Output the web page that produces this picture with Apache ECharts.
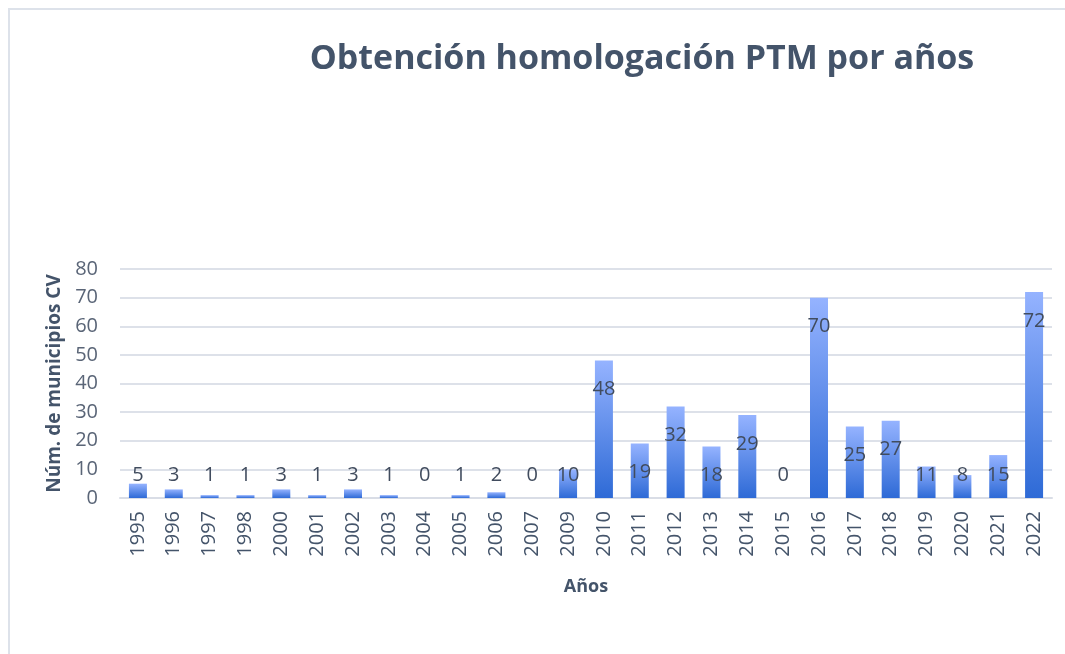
<!DOCTYPE html>
<html>
<head>
<meta charset="utf-8">
<script src="https://cdn.jsdelivr.net/npm/echarts@6/dist/echarts.min.js"></script>
<style>
  html, body { margin: 0; padding: 0; background: #fff; }
  #chart { width: 1065px; height: 654px; }
</style>
</head>
<body>
<div id="chart"></div>
<script>
const years = ['1995', '1996', '1997', '1998', '2000', '2001', '2002', '2003', '2004', '2005', '2006', '2007', '2009',
  '2010', '2011', '2012', '2013', '2014', '2015', '2016', '2017', '2018', '2019', '2020', '2021', '2022']
const counts = [5, 3, 1, 1, 3, 1, 3, 1, 0, 1, 2, 0, 10, 48, 19, 32, 18, 29, 0, 70, 25, 27, 11, 8, 15, 72]
const yTicks = [0, 10, 20, 30, 40, 50, 60, 70, 80]

const textColor = '#44546a'

const chart = echarts.init(document.getElementById('chart'))

// etiquetas: dentro del extremo en barras altas, a ras de suelo en las bajas
const barData = counts.map(v => ({
  value: v,
  label: v >= 19
    ? { position: 'insideTop', distance: 19 }
    : { position: 'insideBottom', distance: 13 }
}))

const option = {
  backgroundColor: '#fff',
  animation: false,
  title: {
    text: 'Obtención homologación PTM por años',
    left: 637,
    top: 37,
    textAlign: 'center',
    textStyle: {
      fontFamily: 'Open Sans',
      fontWeight: 'bold',
      fontSize: 34,
      color: textColor
    }
  },
  graphic: [{
    type: 'rect',
    shape: { x: 9, y: 9, width: 1070, height: 660 },
    style: { fill: 'none', stroke: '#dde2ea', lineWidth: 2 }
  }],
  grid: {
    left: 120,
    right: 13,
    top: 269,
    bottom: 156
  },
  xAxis: {
    type: 'category',
    data: years,
    name: 'Años',
    nameLocation: 'middle',
    nameGap: 80,
    nameTextStyle: { fontFamily: 'Open Sans', fontWeight: 'bold', fontSize: 18, color: textColor },
    axisLine: { lineStyle: { color: '#d9dde6', width: 2 } },
    axisTick: { show: false },
    axisLabel: {
      rotate: 90,
      fontFamily: 'Open Sans',
      fontSize: 20,
      color: textColor,
      margin: 13,
      interval: 0
    }
  },
  yAxis: {
    type: 'value',
    min: yTicks[0],
    max: yTicks[yTicks.length - 1],
    interval: 10,
    name: 'Núm. de municipios CV',
    nameLocation: 'middle',
    nameGap: 56,
    nameTextStyle: { fontFamily: 'Open Sans', fontWeight: 'bold', fontSize: 19, color: textColor },
    axisLine: { show: false },
    axisTick: { show: false },
    axisLabel: { fontFamily: 'Open Sans', fontSize: 20, color: '#5a6577', margin: 22 },
    splitLine: { lineStyle: { color: '#dde1e9', width: 2 } }
  },
  series: [{
    type: 'bar',
    data: barData,
    barWidth: 18,
    itemStyle: {
      color: new echarts.graphic.LinearGradient(0, 0, 0, 1, [
        { offset: 0, color: '#95b3ff' },
        { offset: 1, color: '#2e6ad6' }
      ])
    },
    label: {
      show: true,
      fontFamily: 'Open Sans',
      fontSize: 20,
      color: '#414c5e'
    }
  }]
}

chart.setOption(option)
window.onresize = () => {
  chart.resize()
}
</script>
</body>
</html>
